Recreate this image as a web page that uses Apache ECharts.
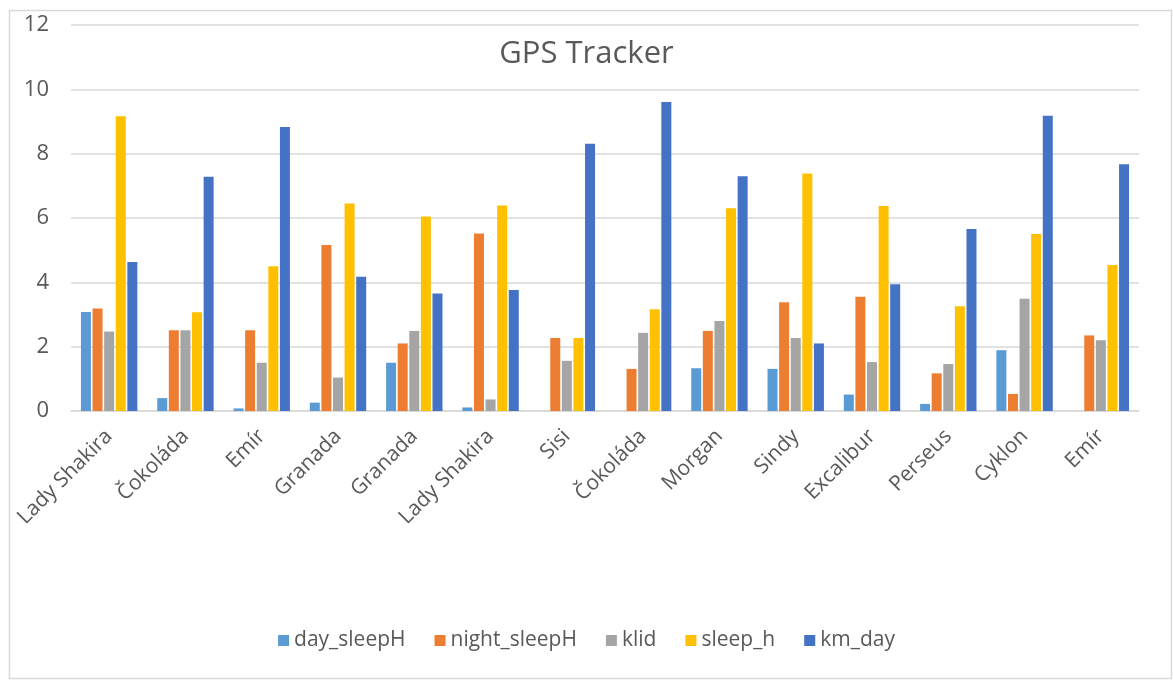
<!DOCTYPE html>
<html>
<head>
<meta charset="utf-8">
<script src="https://cdn.jsdelivr.net/npm/echarts@6/dist/echarts.min.js"></script>
<style>
	html, body { margin: 0; padding: 0; background: #fff; }
	#echart1 { width: 1173px; height: 686px; }
</style>
</head>
<body>
<div id="echart1"></div>
<script>
var categories = ['Lady Shakira', 'Čokoláda', 'Emír', 'Granada', 'Granada', 'Lady Shakira', 'Sisi', 'Čokoláda', 'Morgan', 'Sindy', 'Excalibur', 'Perseus', 'Cyklon', 'Emír'];
var daySleepH = [3.08, 0.40, 0.08, 0.26, 1.50, 0.11, 0, 0, 1.33, 1.31, 0.51, 0.22, 1.89, 0];
var nightSleepH = [3.19, 2.51, 2.51, 5.16, 2.10, 5.52, 2.27, 1.31, 2.49, 3.38, 3.55, 1.17, 0.53, 2.35];
var klid = [2.47, 2.51, 1.50, 1.04, 2.49, 0.36, 1.56, 2.43, 2.80, 2.27, 1.52, 1.46, 3.49, 2.20];
var sleepH = [9.16, 3.07, 4.50, 6.45, 6.05, 6.39, 2.27, 3.16, 6.30, 7.38, 6.37, 3.26, 5.50, 4.54];
var kmDay = [4.63, 7.28, 8.83, 4.17, 3.65, 3.76, 8.31, 9.61, 7.30, 2.10, 3.94, 5.66, 9.18, 7.67];

var font = '"Open Sans", sans-serif';
var textColor = '#595959';

function bar(name, data) {
	return {
		name: name,
		type: 'bar',
		data: data,
		barWidth: 10,
		barGap: '16%'
	};
}

var chart = echarts.init(document.getElementById('echart1'));
var option = {
	color: ['#5b9bd5', '#ed7d31', '#a5a5a5', '#ffc000', '#4472c4'],
	animation: false,
	title: {
		text: 'GPS Tracker',
		left: 'center',
		top: 34,
		textStyle: { fontFamily: font, fontSize: 31, fontWeight: 'normal', color: textColor }
	},
	legend: {
		bottom: 30,
		left: 'center',
		icon: 'rect',
		itemWidth: 11,
		itemHeight: 11,
		itemGap: 29,
		textStyle: { fontFamily: font, fontSize: 21, color: textColor }
	},
	grid: { left: 71, right: 34, top: 25, bottom: 275 },
	xAxis: {
		type: 'category',
		data: categories,
		axisLine: { lineStyle: { color: '#d9d9d9', width: 1.5 } },
		axisTick: { show: false },
		axisLabel: { interval: 0, rotate: 45, margin: 22, fontFamily: font, fontSize: 21, color: textColor }
	},
	yAxis: {
		type: 'value',
		min: 0,
		max: 12,
		interval: 2,
		axisLine: { show: false },
		axisTick: { show: false },
		splitLine: { lineStyle: { color: '#d9d9d9', width: 1.5 } },
		axisLabel: { margin: 22, fontFamily: font, fontSize: 22, color: textColor }
	},
	graphic: [{
		type: 'rect',
		shape: { x: 9.5, y: 10.5, width: 1162, height: 668 },
		style: { fill: 'none', stroke: '#d9d9d9', lineWidth: 1.5 },
		silent: true
	}],
	series: [
		bar('day_sleepH', daySleepH),
		bar('night_sleepH', nightSleepH),
		bar('klid', klid),
		bar('sleep_h', sleepH),
		bar('km_day', kmDay)
	]
};
chart.setOption(option);
</script>
</body>
</html>
